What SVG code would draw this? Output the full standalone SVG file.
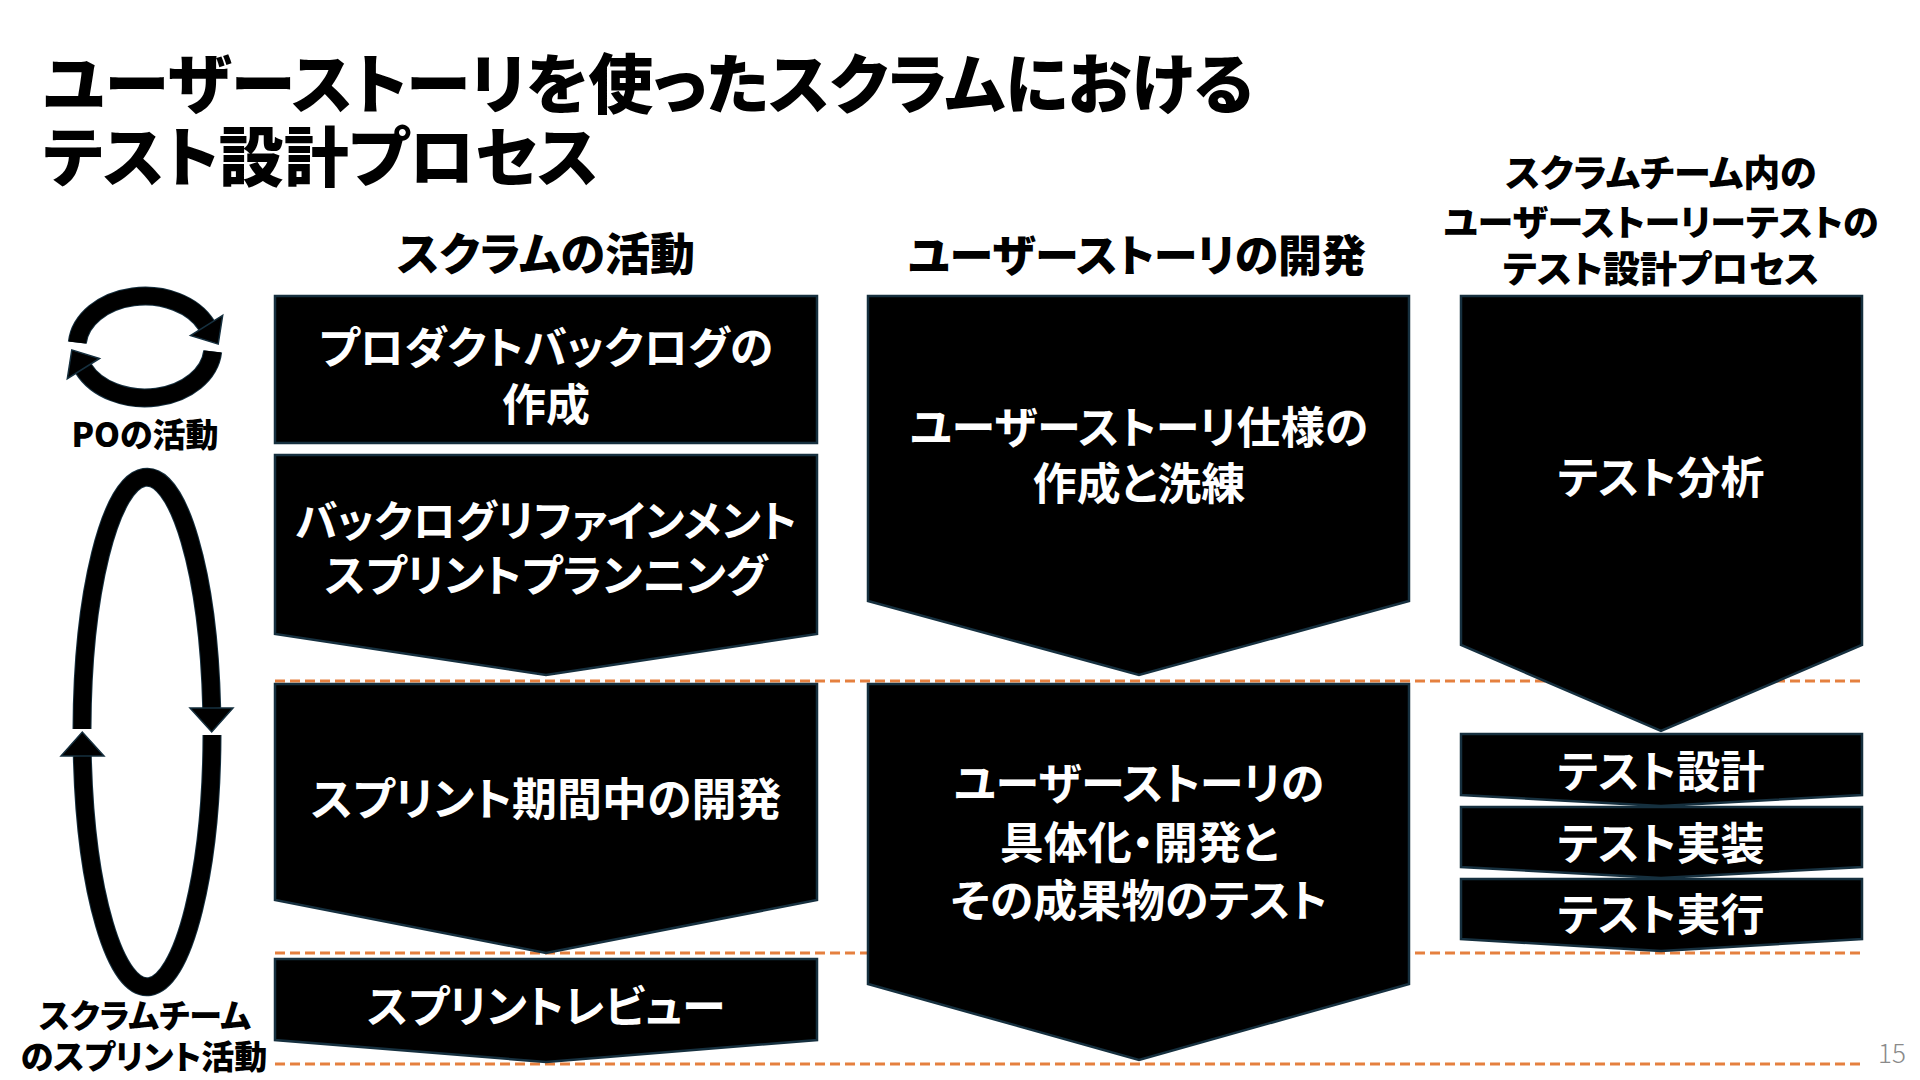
<svg xmlns="http://www.w3.org/2000/svg" width="1920" height="1080" viewBox="0 0 1920 1080">
<style>
  text { font-family: "Noto Sans CJK JP", "Noto Sans", sans-serif; font-feature-settings: "palt"; }
  .title { font-size: 65px; font-weight: 900; fill: #000; dominant-baseline: central; }
  .hdr { font-size: 44px; font-weight: 900; fill: #000; text-anchor: middle; dominant-baseline: central; }
  .hdr3 { font-size: 37px; font-weight: 900; fill: #000; text-anchor: middle; dominant-baseline: central; }
  .side { font-size: 33px; font-weight: 900; fill: #000; text-anchor: middle; dominant-baseline: central; }
  .bt { font-size: 44px; font-weight: 700; fill: #fff; text-anchor: middle; dominant-baseline: central; }
  .box { fill: #000; stroke: #16303f; stroke-width: 2.5; stroke-linejoin: miter; }
  .dash { stroke: #e5803f; stroke-width: 3; stroke-dasharray: 10 5; fill: none; }
  .ring { fill: none; stroke: #000; stroke-width: 17; stroke-linecap: butt; }
  .ringOutline { fill: none; stroke: #16303f; stroke-width: 19; stroke-linecap: butt; }
  .head { fill: #000; stroke: #16303f; stroke-width: 1.5; stroke-linejoin: miter; }
  .pg { font-family: "Noto Sans CJK JP", "Noto Sans", sans-serif; font-size: 26px; font-weight: 300; fill: #8a8a8a; text-anchor: middle; dominant-baseline: central; }
</style>
<rect width="1920" height="1080" fill="#fff"/>

<g id="title">
  <text class="title" x="43" y="80">ユーザーストーリを使ったスクラムにおける</text>
  <text class="title" x="43" y="153">テスト設計プロセス</text>
</g>

<g id="headers">
  <text class="hdr" x="546" y="251" style="font-size:45px">スクラムの活動</text>
  <text class="hdr" x="1137" y="253">ユーザーストーリの開発</text>
  <text class="hdr3" x="1661" y="171">スクラムチーム内の</text>
  <text class="hdr3" x="1661" y="220" style="font-size:36px">ユーザーストーリーテストの</text>
  <text class="hdr3" x="1661" y="267">テスト設計プロセス</text>
</g>

<g id="connectors">
  <line class="dash" x1="275" y1="681" x2="1861" y2="681"/>
  <line class="dash" x1="275" y1="953" x2="1861" y2="953"/>
  <line class="dash" x1="275" y1="1064" x2="1861" y2="1064"/>
</g>

<g id="po-cycle">
  <path class="ringOutline" d="M 77.3 342.6 A 68 51 0 0 1 206.6 325.4"/>
  <path class="ringOutline" d="M 212.7 351.4 A 68 51 0 0 1 83.4 368.6"/>
  <path class="ring" d="M 77.3 342.6 A 68 51 0 0 1 206.6 325.4"/>
  <path class="ring" d="M 212.7 351.4 A 68 51 0 0 1 83.4 368.6"/>
  <polygon class="head" points="222.7,315.3 190.5,335.5 218.2,344.1"/>
  <polygon class="head" points="99.5,358.5 67.3,378.7 71.8,349.9"/>
  <text class="side" x="145" y="433">POの活動</text>
</g>

<g id="sprint-cycle">
  <path class="ringOutline" d="M 82 729 A 65 255 0 0 1 211.7 708"/>
  <path class="ringOutline" d="M 212 735 A 65 255 0 0 1 82.3 756"/>
  <path class="ring" d="M 82 729 A 65 255 0 0 1 211.7 708"/>
  <path class="ring" d="M 212 735 A 65 255 0 0 1 82.3 756"/>
  <polygon class="head" points="190,708 233,708 211.7,732"/>
  <polygon class="head" points="61,756 104,756 82.3,732"/>
  <text class="side" x="145" y="1014">スクラムチーム</text>
  <text class="side" x="144" y="1055">のスプリント活動</text>
</g>

<g id="node-backlog">
  <rect class="box" x="275" y="296" width="542" height="147"/>
  <text class="bt" x="546" y="345">プロダクトバックログの</text>
  <text class="bt" x="546" y="402">作成</text>
</g>

<g id="node-refinement">
  <polygon class="box" points="275,455 817,455 817,634 546,675 275,634"/>
  <text class="bt" x="546" y="518" style="font-size:43px">バックログリファインメント</text>
  <text class="bt" x="546" y="573">スプリントプランニング</text>
</g>

<g id="node-sprint-dev">
  <polygon class="box" points="275,684 817,684 817,900 546,953 275,900"/>
  <text class="bt" x="546" y="796" style="font-size:45px">スプリント期間中の開発</text>
</g>

<g id="node-review">
  <polygon class="box" points="275,959 817,959 817,1040 546,1062 275,1040"/>
  <text class="bt" x="546" y="1004">スプリントレビュー</text>
</g>

<g id="node-story-spec">
  <polygon class="box" points="868,296 1409,296 1409,601 1139,675 868,601"/>
  <text class="bt" x="1139" y="425">ユーザーストーリ仕様の</text>
  <text class="bt" x="1139" y="481">作成と洗練</text>
</g>

<g id="node-story-dev">
  <polygon class="box" points="868,684 1409,684 1409,984 1139,1060 868,984"/>
  <text class="bt" x="1139" y="781">ユーザーストーリの</text>
  <text class="bt" x="1139" y="840">具体化・開発と</text>
  <text class="bt" x="1139" y="898">その成果物のテスト</text>
</g>

<g id="node-test-analysis">
  <polygon class="box" points="1461,296 1862,296 1862,645 1661,731 1461,645"/>
  <text class="bt" x="1661" y="475">テスト分析</text>
</g>

<g id="node-test-design">
  <polygon class="box" points="1461,734 1862,734 1862,795 1661,806 1461,795"/>
  <text class="bt" x="1661" y="769">テスト設計</text>
</g>

<g id="node-test-impl">
  <polygon class="box" points="1461,807 1862,807 1862,867 1661,878 1461,867"/>
  <text class="bt" x="1661" y="841">テスト実装</text>
</g>

<g id="node-test-exec">
  <polygon class="box" points="1461,879 1862,879 1862,939 1661,951 1461,939"/>
  <text class="bt" x="1661" y="912">テスト実行</text>
</g>

<text class="pg" x="1892" y="1051">15</text>
</svg>
